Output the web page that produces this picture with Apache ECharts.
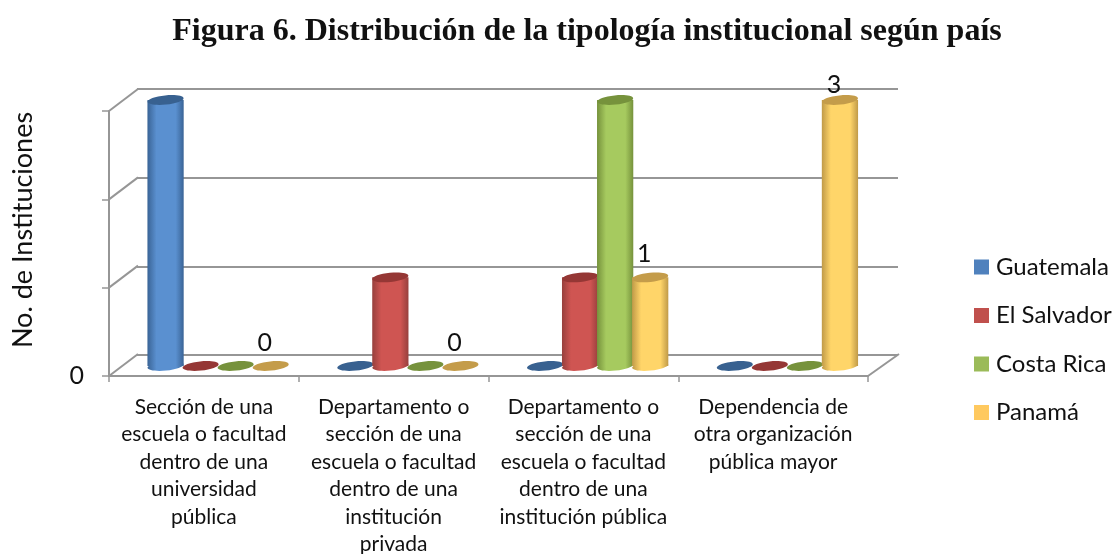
<!DOCTYPE html>
<html>
<head>
<meta charset="utf-8">
<title>Figura 6</title>
<style>
  html, body { margin: 0; padding: 0; background: #fff; }
  #chart { width: 1117px; height: 554px; }
</style>
</head>
<body>
<div id="chart"></div>
<script src="https://cdn.jsdelivr.net/npm/echarts@6/dist/echarts.min.js"></script>
<script>
  const categories = [
    'Sección de una\nescuela o facultad\ndentro de una\nuniversidad\npública',
    'Departamento o\nsección de una\nescuela o facultad\ndentro de una\ninstitución\nprivada',
    'Departamento o\nsección de una\nescuela o facultad\ndentro de una\ninstitución pública',
    'Dependencia de\notra organización\npública mayor',
  ]
  const guatemala = [3, 0, 0, 0]
  const elSalvador = [0, 1, 1, 0]
  const costaRica = [0, 0, 3, 0]
  const panama = [0, 0, 1, 3]
  const yTicks = [0, 1, 2, 3]
  const yTickLabels = ['0', '', '', '']
  const titleText = 'Figura 6. Distribución de la tipología institucional según país'
  const yName = 'No. de Instituciones'

  // colores: [centro, borde, tapa], legend = cuadrito de la leyenda
  const paises = [
    { name: 'Guatemala', data: guatemala, legend: '#4f81bd', colors: ['#5a90d0', '#3a6496', '#386190'] },
    { name: 'El Salvador', data: elSalvador, legend: '#c0504d', colors: ['#cf5552', '#97403d', '#953735'] },
    { name: 'Costa Rica', data: costaRica, legend: '#9bbb59', colors: ['#a6ca5f', '#76923c', '#76923c'] },
    { name: 'Panamá', data: panama, legend: '#ffc95f', colors: ['#ffd569', '#c09a48', '#c49c4a'] },
  ]

  const font = 'Lato'
  const gridColor = '#969696'
  const depthX = 29 // desplazamiento de la pared del fondo
  const depthY = -22

  const myChart = echarts.init(document.getElementById('chart'))

  const cylinder = (item) => (params, api) => {
    const idx = api.value(0)
    const val = api.value(1)
    const band = api.size([1, 0])[0]
    const step = band * 0.1847
    const rx = band * 0.0955
    const ry = 4.6
    const tilt = 0.1
    const base = api.coord([idx, 0])
    const top = api.coord([idx, val])
    const cx = base[0] + (params.seriesIndex - 1.5) * step
    const side = {
      type: 'linear', x: 0, y: 0, x2: 1, y2: 0,
      colorStops: [
        { offset: 0, color: item.colors[1] },
        { offset: 0.25, color: item.colors[0] },
        { offset: 0.78, color: item.colors[0] },
        { offset: 1, color: item.colors[1] },
      ],
    }
    const children = []
    if (val > 0) {
      children.push({
        type: 'ellipse', x: cx, y: base[1], rotation: tilt,
        shape: { cx: 0, cy: 0, rx, ry }, style: { fill: side },
      })
      children.push({
        type: 'rect',
        shape: { x: cx - rx, y: top[1], width: rx * 2, height: base[1] - top[1] },
        style: { fill: side },
      })
    }
    children.push({
      type: 'ellipse', x: cx, y: top[1], rotation: tilt,
      shape: { cx: 0, cy: 0, rx, ry }, style: { fill: item.colors[2] },
    })
    // solo Panamá lleva etiqueta de valor
    if (item.name === 'Panamá') {
      children.push({
        type: 'text',
        x: cx - 6,
        y: Math.max(top[1] - 23, 85),
        style: { text: String(val), fill: '#111', font: '25px ' + font, textAlign: 'center', textVerticalAlign: 'middle' },
      })
    }
    return { type: 'group', children }
  }

  const paredes = (params, api) => {
    const p = api.coord([0, api.value(1)])
    const x = p[0] - api.size([1, 0])[0] / 2
    return {
      type: 'line',
      shape: { x1: x, y1: p[1], x2: x + depthX, y2: p[1] + depthY },
      style: { stroke: gridColor, lineWidth: 2 },
    }
  }

  const paredDerecha = (params, api) => {
    const p = api.coord([3, 0])
    const x = p[0] + api.size([1, 0])[0] / 2
    return {
      type: 'line',
      shape: { x1: x, y1: p[1], x2: x + depthX + 2, y2: p[1] + depthY },
      style: { stroke: gridColor, lineWidth: 2 },
    }
  }

  const option = {
    animation: false,
    title: {
      text: titleText,
      left: 582,
      top: 11,
      textAlign: 'center',
      textStyle: { fontFamily: 'Liberation Serif', fontSize: 32, fontWeight: 'bold', color: '#111' },
    },
    legend: {
      data: paises.map(p => p.name),
      orient: 'vertical',
      left: 974,
      top: 255,
      padding: 0,
      icon: 'rect',
      itemWidth: 15,
      itemHeight: 15,
      itemGap: 24.5,
      textStyle: { fontFamily: font, fontSize: 24, color: '#111', padding: [0, 0, 0, 2] },
    },
    graphic: [
      {
        type: 'text',
        x: 23,
        y: 230,
        rotation: Math.PI / 2,
        style: { text: yName, fill: '#111', font: '27px ' + font, textAlign: 'center', textVerticalAlign: 'middle' },
      },
    ],
    grid: [
      { left: 109, width: 759, top: 111, height: 265, outerBoundsMode: 'none' }, // frente
      { left: 137, width: 761, top: 89, height: 266, outerBoundsMode: 'none' }, // fondo
      { left: 123.25, width: 759, top: 100, height: 266, outerBoundsMode: 'none' }, // plano de las barras
    ],
    xAxis: [
      {
        type: 'category',
        gridIndex: 0,
        data: categories,
        axisLine: { show: true, lineStyle: { color: gridColor, width: 2 } },
        axisTick: { show: true, alignWithLabel: false, length: 6, lineStyle: { color: gridColor, width: 1.5 } },
        axisLabel: { interval: 0, color: '#111', fontFamily: font, fontSize: 21, lineHeight: 27.5, margin: 17 },
      },
      { type: 'category', gridIndex: 1, data: categories, show: false },
      { type: 'category', gridIndex: 2, data: categories, show: false },
    ],
    yAxis: [
      {
        type: 'value',
        gridIndex: 0,
        min: 0,
        max: 3,
        interval: 1,
        axisLine: { show: true, lineStyle: { color: gridColor, width: 2 } },
        axisTick: { show: true, length: 7, lineStyle: { color: gridColor, width: 1.5 } },
        axisLabel: {
          color: '#111',
          fontFamily: font,
          fontSize: 25,
          margin: 25,
          formatter: (v) => yTickLabels[yTicks.indexOf(v)],
        },
        splitLine: { show: false },
      },
      {
        type: 'value',
        gridIndex: 1,
        min: 0,
        max: 3,
        interval: 1,
        axisLine: { show: false },
        axisTick: { show: false },
        axisLabel: { show: false },
        splitLine: { show: true, lineStyle: { color: gridColor, width: 2 } },
      },
      { type: 'value', gridIndex: 2, min: 0, max: 3, show: false, splitLine: { show: false } },
    ],
    series: [
      ...paises.map(item => ({
        name: item.name,
        type: 'custom',
        xAxisIndex: 2,
        yAxisIndex: 2,
        itemStyle: { color: item.legend },
        renderItem: cylinder(item),
        clip: false,
        silent: true,
        data: item.data.map((v, i) => [i, v]),
        z: 5,
      })),
      {
        type: 'custom',
        name: 'paredes',
        xAxisIndex: 0,
        yAxisIndex: 0,
        renderItem: paredes,
        silent: true,
        data: yTicks.map(v => [0, v]),
        z: 1,
      },
      {
        type: 'custom',
        name: 'pared derecha',
        xAxisIndex: 0,
        yAxisIndex: 0,
        renderItem: paredDerecha,
        silent: true,
        data: [[3, 0]],
        z: 1,
      },
    ],
  }

  option && myChart.setOption(option)
</script>
</body>
</html>
